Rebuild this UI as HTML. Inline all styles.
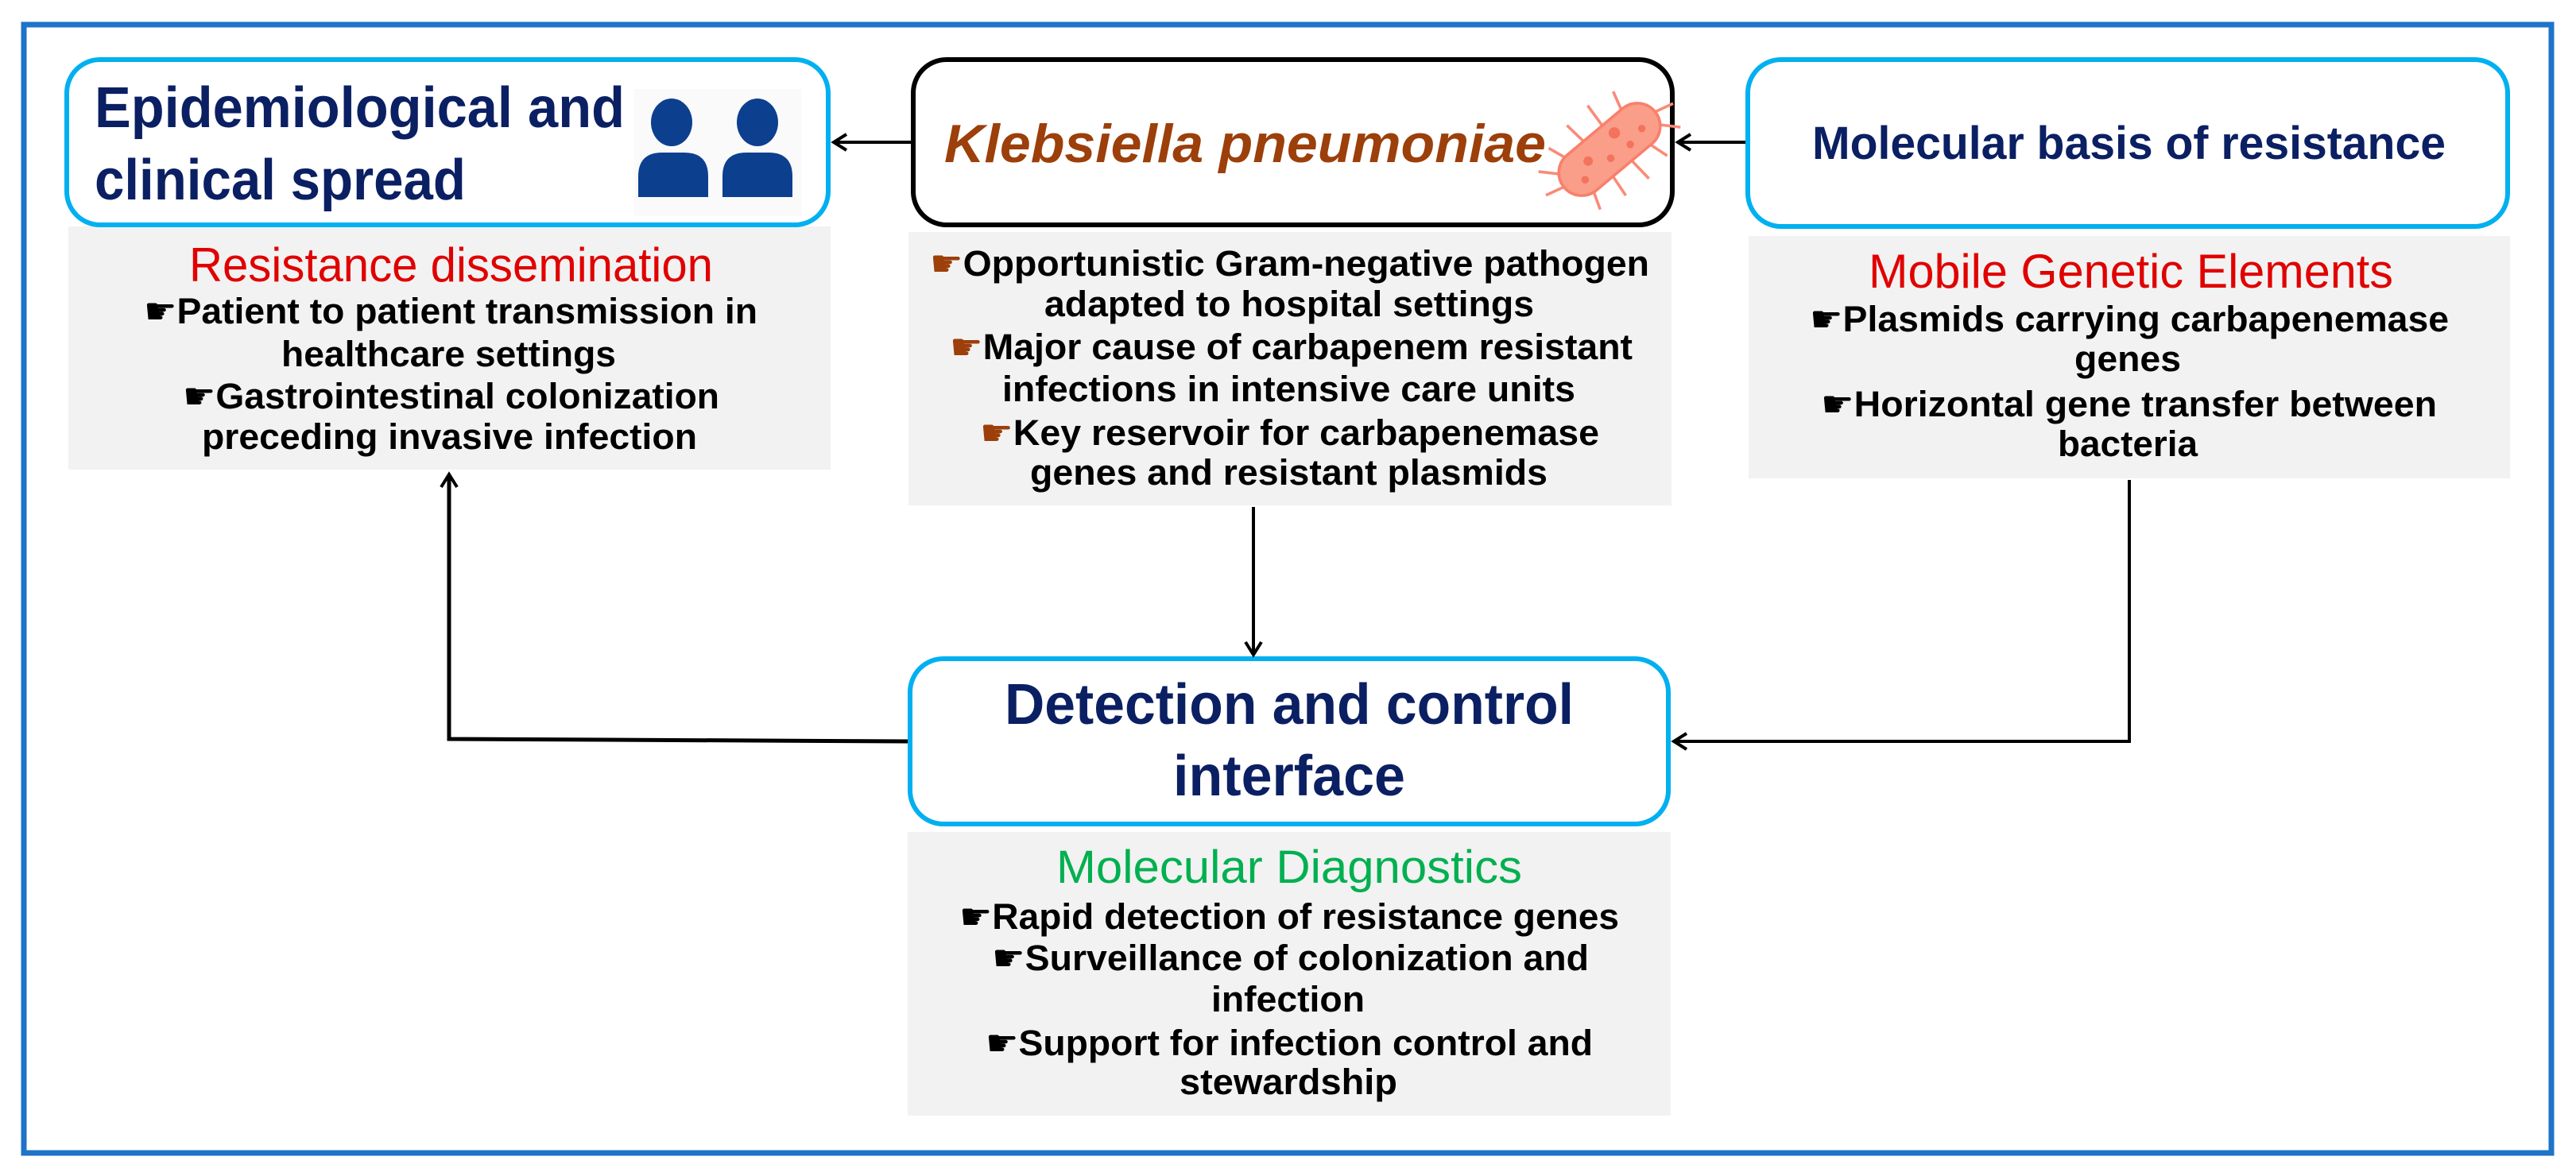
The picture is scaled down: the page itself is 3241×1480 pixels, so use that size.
<!DOCTYPE html>
<html><head><meta charset="utf-8"><style>
html,body{margin:0;padding:0;background:#fff;}
svg{display:block;}
text{font-family:"Liberation Sans","DejaVu Sans",sans-serif;}
.t{font-weight:bold;fill:#0b1f63;}
.b{font-weight:bold;fill:#000;font-size:45px;}
.h{fill:#e00000;font-size:60px;}
</style></head><body>
<svg width="3241" height="1480" viewBox="0 0 3241 1480" xmlns="http://www.w3.org/2000/svg">
<defs>
<marker id="ah" markerWidth="30" markerHeight="30" refX="22" refY="12" orient="auto" markerUnits="userSpaceOnUse">
<polyline points="6,2 22,12 6,22" fill="none" stroke="#000" stroke-width="4"/>
</marker>
</defs>
<rect x="30" y="31" width="3180" height="1420" fill="none" stroke="#1f73c8" stroke-width="7"/>

<rect x="86" y="285" width="959" height="306" fill="#f2f2f2"/>
<rect x="1143" y="292" width="960" height="344" fill="#f2f2f2"/>
<rect x="2200" y="297" width="958" height="305" fill="#f2f2f2"/>
<rect x="1142" y="1047" width="960" height="357" fill="#f2f2f2"/>

<rect x="84" y="75" width="958" height="208" rx="42" fill="#fff" stroke="#00b0f0" stroke-width="6"/>
<rect x="1149" y="75" width="955" height="208" rx="42" fill="#fff" stroke="#000" stroke-width="6"/>
<rect x="2199" y="75" width="956" height="210" rx="42" fill="#fff" stroke="#00b0f0" stroke-width="6"/>
<rect x="1145" y="829" width="954" height="208" rx="42" fill="#fff" stroke="#00b0f0" stroke-width="6"/>

<line x1="1146" y1="179" x2="1049" y2="179" stroke="#000" stroke-width="4" marker-end="url(#ah)"/>
<line x1="2196" y1="179" x2="2111" y2="179" stroke="#000" stroke-width="4" marker-end="url(#ah)"/>
<line x1="1577" y1="638" x2="1577" y2="824" stroke="#000" stroke-width="4" marker-end="url(#ah)"/>
<polyline points="1142,933 565,930 565,597" fill="none" stroke="#000" stroke-width="5" marker-end="url(#ah)"/>
<polyline points="2679,604 2679,933 2106,933" fill="none" stroke="#000" stroke-width="4" marker-end="url(#ah)"/>

<text class="t" x="119" y="160" font-size="72" textLength="667" lengthAdjust="spacingAndGlyphs">Epidemiological and</text>
<text class="t" x="119" y="251" font-size="72" textLength="467" lengthAdjust="spacingAndGlyphs">clinical spread</text>
<text x="1188" y="204" font-size="68" font-weight="bold" font-style="italic" fill="#9c3f0a" textLength="757" lengthAdjust="spacingAndGlyphs">Klebsiella pneumoniae</text>
<text class="t" x="2280" y="200" font-size="58" textLength="797" lengthAdjust="spacingAndGlyphs">Molecular basis of resistance</text>
<text class="t" x="1264" y="911" font-size="72" textLength="716" lengthAdjust="spacingAndGlyphs">Detection and control</text>
<text class="t" x="1476" y="1001" font-size="72" textLength="292" lengthAdjust="spacingAndGlyphs">interface</text>

<rect x="798" y="112" width="210" height="160" fill="#fafafa"/>
<g fill="#0d3f8f">
<ellipse cx="845" cy="154" rx="26" ry="30"/>
<path d="M803,248 L803,222 Q803,192 833,192 L861,192 Q891,192 891,222 L891,248 Z"/>
<ellipse cx="953" cy="154" rx="26" ry="30"/>
<path d="M909,248 L909,222 Q909,192 939,192 L967,192 Q997,192 997,222 L997,248 Z"/>
</g>

<g transform="translate(2025,188) rotate(-40) scale(1.2)" stroke="#f98b78" stroke-width="3" fill="none">
<line x1="-40" y1="-20" x2="-48" y2="-42"/><line x1="-15" y1="-20" x2="-18" y2="-48"/><line x1="10" y1="-20" x2="12" y2="-50"/><line x1="35" y1="-20" x2="42" y2="-44"/>
<line x1="-40" y1="20" x2="-48" y2="42"/><line x1="-15" y1="20" x2="-18" y2="48"/><line x1="10" y1="20" x2="12" y2="50"/><line x1="35" y1="20" x2="42" y2="44"/>
<line x1="-60" y1="0" x2="-82" y2="-6"/><line x1="60" y1="0" x2="82" y2="6"/>
<line x1="-55" y1="-12" x2="-72" y2="-30"/><line x1="55" y1="12" x2="72" y2="30"/>
<rect x="-62" y="-24" width="124" height="48" rx="24" fill="#fa9e8a" stroke="#f8806b" stroke-width="3"/>
<g fill="#f4735d" stroke="none"><circle cx="-25" cy="-5" r="5"/><circle cx="15" cy="-10" r="6"/><circle cx="40" cy="5" r="4"/><circle cx="-5" cy="8" r="4"/><circle cx="-40" cy="8" r="4"/><circle cx="20" cy="10" r="4"/></g>
</g>

<text class="h" x="238" y="354" textLength="659" lengthAdjust="spacingAndGlyphs">Resistance dissemination</text>
<text class="b" x="181" y="407" textLength="772" lengthAdjust="spacingAndGlyphs">☛Patient to patient transmission in</text>
<text class="b" x="354" y="461" textLength="421" lengthAdjust="spacingAndGlyphs">healthcare settings</text>
<text class="b" x="230" y="514" textLength="675" lengthAdjust="spacingAndGlyphs">☛Gastrointestinal colonization</text>
<text class="b" x="254" y="565" textLength="623" lengthAdjust="spacingAndGlyphs">preceding invasive infection</text>

<text class="b" x="1170" y="347" textLength="905" lengthAdjust="spacingAndGlyphs"><tspan fill="#9c3f0a">☛</tspan>Opportunistic Gram-negative pathogen</text>
<text class="b" x="1314" y="398" textLength="616" lengthAdjust="spacingAndGlyphs">adapted to hospital settings</text>
<text class="b" x="1195" y="452" textLength="859" lengthAdjust="spacingAndGlyphs"><tspan fill="#9c3f0a">☛</tspan>Major cause of carbapenem resistant</text>
<text class="b" x="1261" y="505" textLength="721" lengthAdjust="spacingAndGlyphs">infections in intensive care units</text>
<text class="b" x="1233" y="560" textLength="779" lengthAdjust="spacingAndGlyphs"><tspan fill="#9c3f0a">☛</tspan>Key reservoir for carbapenemase</text>
<text class="b" x="1296" y="610" textLength="651" lengthAdjust="spacingAndGlyphs">genes and resistant plasmids</text>

<text class="h" x="2351" y="362" textLength="660" lengthAdjust="spacingAndGlyphs">Mobile Genetic Elements</text>
<text class="b" x="2277" y="417" textLength="804" lengthAdjust="spacingAndGlyphs">☛Plasmids carrying carbapenemase</text>
<text class="b" x="2610" y="467" textLength="134" lengthAdjust="spacingAndGlyphs">genes</text>
<text class="b" x="2291" y="524" textLength="775" lengthAdjust="spacingAndGlyphs">☛Horizontal gene transfer between</text>
<text class="b" x="2589" y="574" textLength="176" lengthAdjust="spacingAndGlyphs">bacteria</text>

<text x="1329" y="1111" font-size="58" fill="#00b050" textLength="586" lengthAdjust="spacingAndGlyphs">Molecular Diagnostics</text>
<text class="b" x="1207" y="1169" font-size="43" textLength="830" lengthAdjust="spacingAndGlyphs">☛Rapid detection of resistance genes</text>
<text class="b" x="1248" y="1221" font-size="43" textLength="751" lengthAdjust="spacingAndGlyphs">☛Surveillance of colonization and</text>
<text class="b" x="1524" y="1273" font-size="43" textLength="193" lengthAdjust="spacingAndGlyphs">infection</text>
<text class="b" x="1240" y="1328" font-size="43" textLength="764" lengthAdjust="spacingAndGlyphs">☛Support for infection control and</text>
<text class="b" x="1484" y="1377" font-size="43" textLength="274" lengthAdjust="spacingAndGlyphs">stewardship</text>
</svg>
</body></html>
